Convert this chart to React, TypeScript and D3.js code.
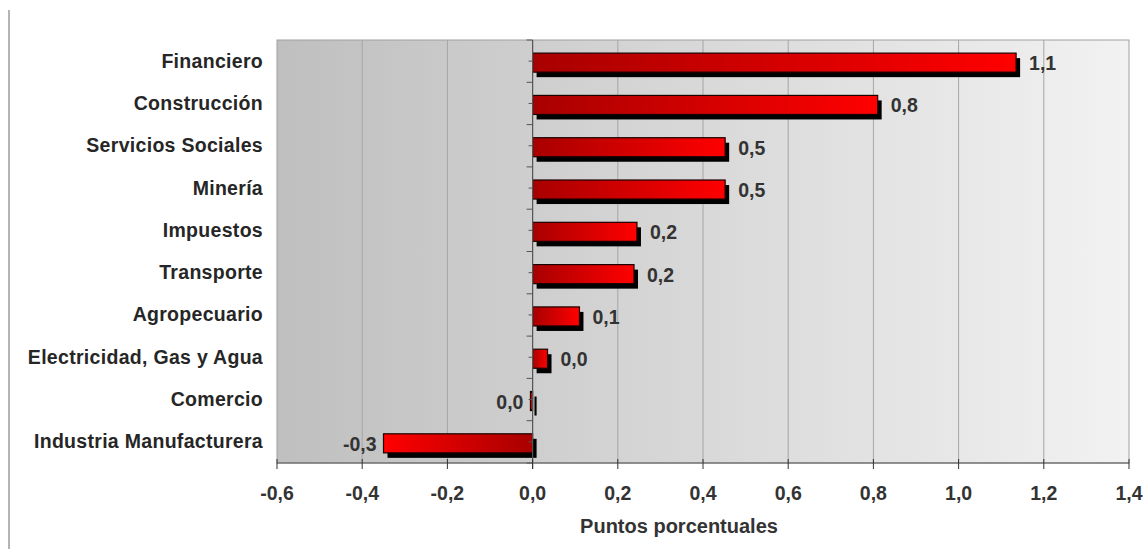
import * as d3 from 'd3'

const categories = [
  'Financiero',
  'Construcción',
  'Servicios Sociales',
  'Minería',
  'Impuestos',
  'Transporte',
  'Agropecuario',
  'Electricidad, Gas y Agua',
  'Comercio',
  'Industria Manufacturera',
]
const values = [1.135, 0.81, 0.452, 0.452, 0.245, 0.238, 0.11, 0.035, -0.005, -0.35]
const valueLabels = ['1,1', '0,8', '0,5', '0,5', '0,2', '0,2', '0,1', '0,0', '0,0', '-0,3']
const xTicks = [-0.6, -0.4, -0.2, 0, 0.2, 0.4, 0.6, 0.8, 1.0, 1.2, 1.4]

const W = 1144
const H = 549
const plot = { left: 277, right: 1129, top: 40, bottom: 463 }
const font = '"Liberation Sans", Arial, sans-serif'

export default function App() {
  const x = d3.scaleLinear().domain([-0.6, 1.4]).range([plot.left, plot.right])
  const y = d3.scaleBand<string>().domain(categories).range([plot.top, plot.bottom])
  const bw = y.bandwidth()
  const barH = bw * 0.45
  const barOff = bw * 0.31
  const fmt = (v: number) => v.toFixed(1).replace('.', ',')

  // tick marks on the category axis: boundaries and centres
  const catTicks: { y: number; major: boolean }[] = []
  categories.forEach((c, i) => {
    catTicks.push({ y: y(c)!, major: true })
    catTicks.push({ y: y(c)! + bw / 2, major: false })
    if (i === categories.length - 1) catTicks.push({ y: y(c)! + bw, major: true })
  })

  return (
    <div style={{ position: 'fixed', left: 0, top: 0 }}>
      <svg width={W} height={H} style={{ display: 'block', background: '#fff' }}>
        <defs>
          <linearGradient id="plotBg" x1="0" x2="1" y1="0" y2="0">
            <stop offset="0" stopColor="#bfbfbf" />
            <stop offset="1" stopColor="#f2f2f2" />
          </linearGradient>
          <linearGradient id="barPos" x1="0" x2="1" y1="0" y2="0">
            <stop offset="0" stopColor="#a80000" />
            <stop offset="1" stopColor="#ff0000" />
          </linearGradient>
          <linearGradient id="barNeg" x1="1" x2="0" y1="0" y2="0">
            <stop offset="0" stopColor="#a80000" />
            <stop offset="1" stopColor="#ff0000" />
          </linearGradient>
        </defs>

        {/* outer chart frame (left edge only visible) */}
        <line x1={9} x2={9} y1={10} y2={H} stroke="#b4b4b4" strokeWidth={2} />

        {/* plot area */}
        <rect
          x={plot.left}
          y={plot.top}
          width={plot.right - plot.left}
          height={plot.bottom - plot.top}
          fill="url(#plotBg)"
          stroke="#a0a0a0"
          strokeWidth={1}
        />

        {/* vertical gridlines */}
        {xTicks.slice(1, -1).map(t => (
          <line key={'g' + t} x1={x(t)} x2={x(t)} y1={plot.top} y2={plot.bottom} stroke="#a6a6a6" strokeWidth={1} />
        ))}

        {/* shadows */}
        {values.map((v, i) => {
          const y0 = y(categories[i])! + barOff
          const xa = Math.min(x(0), x(v))
          const w = Math.max(1.5, Math.abs(x(v) - x(0)))
          return <rect key={'s' + i} x={xa + 4} y={y0 + 5} width={w} height={barH} fill="#000" />
        })}

        {/* bars */}
        {values.map((v, i) => {
          const y0 = y(categories[i])! + barOff
          const xa = Math.min(x(0), x(v))
          const w = Math.max(1.5, Math.abs(x(v) - x(0)))
          return (
            <rect
              key={'b' + i}
              x={xa}
              y={y0}
              width={w}
              height={barH}
              fill={v >= 0 ? 'url(#barPos)' : 'url(#barNeg)'}
              stroke="#1a0000"
              strokeWidth={1.2}
            />
          )
        })}

        {/* category axis at zero */}
        <line x1={x(0)} x2={x(0)} y1={plot.top} y2={plot.bottom + 6} stroke="#555" strokeWidth={1.2} />
        {catTicks.map((t, i) => (
          <line key={'ct' + i} x1={x(0) - (t.major ? 6 : 4)} x2={x(0)} y1={t.y} y2={t.y} stroke="#555" strokeWidth={1} />
        ))}

        {/* value axis */}
        <line x1={plot.left} x2={plot.right} y1={plot.bottom} y2={plot.bottom} stroke="#555" strokeWidth={1.2} />
        {xTicks.map(t => (
          <g key={'xt' + t}>
            <line x1={x(t)} x2={x(t)} y1={plot.bottom - 4} y2={plot.bottom + 6} stroke="#333" strokeWidth={1} />
            <text
              x={x(t)}
              y={500}
              textAnchor="middle"
              fontFamily={font}
              fontWeight="bold"
              fontSize={19.5}
              fill="#333"
            >
              {fmt(t)}
            </text>
          </g>
        ))}
        <text
          x={679}
          y={533}
          textAnchor="middle"
          fontFamily={font}
          fontWeight="bold"
          fontSize={20}
          fill="#333"
        >
          Puntos porcentuales
        </text>

        {/* category labels */}
        {categories.map(c => (
          <text
            key={'c' + c}
            x={263}
            y={y(c)! + bw / 2 + 6.5}
            textAnchor="end"
            fontFamily={font}
            fontWeight="bold"
            fontSize={19.5}
            letterSpacing={0.3}
            fill="#262626"
          >
            {c}
          </text>
        ))}

        {/* value labels */}
        {values.map((v, i) => {
          const pos = v > 0
          return (
            <text
              key={'v' + i}
              x={pos ? x(v) + 13 : x(v) - 7}
              y={y(categories[i])! + barOff + barH / 2 + 7.5}
              textAnchor={pos ? 'start' : 'end'}
              fontFamily={font}
              fontWeight="bold"
              fontSize={19.5}
              fill="#333"
            >
              {valueLabels[i]}
            </text>
          )
        })}
      </svg>
    </div>
  )
}
